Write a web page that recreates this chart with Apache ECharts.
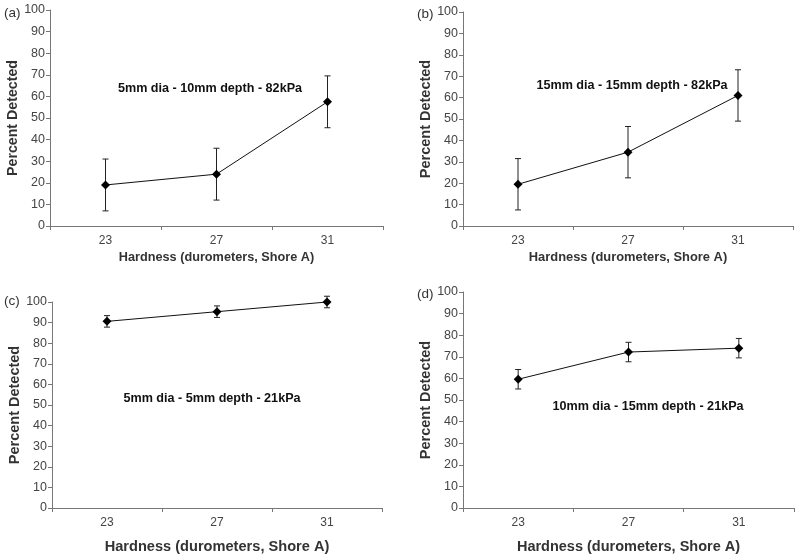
<!DOCTYPE html>
<html><head><meta charset="utf-8">
<script src="https://cdn.jsdelivr.net/npm/echarts@6/dist/echarts.min.js"></script>
<style>html,body{margin:0;padding:0;background:#fff}#c{width:800px;height:560px}</style>
</head><body><div id="c"></div>
<script>
const categories = ['23', '27', '31'];
const aValues = [19, 24, 57.5];
const aErr = [12, 12, 12];
const bValues = [19.5, 34.5, 61];
const bErr = [12, 12, 12];
const cValues = [90.6, 95.3, 100];
const cErr = [2.8, 2.8, 2.8];
const dValues = [59.6, 72.2, 74];
const dErr = [4.5, 4.5, 4.5];
const yTicks = { min: 0, max: 100, interval: 10 };
const panelLabels = ['(a)', '(b)', '(c)', '(d)'];
const annotations = ['5mm dia - 10mm depth - 82kPa', '15mm dia - 15mm depth - 82kPa', '5mm dia - 5mm depth - 21kPa', '10mm dia - 15mm depth - 21kPa'];
const xTitle = 'Hardness (durometers, Shore A)';
const yTitle = 'Percent Detected';

const FONT = 'Liberation Sans, Arial, sans-serif';
const panels = [
  { vals: aValues, err: aErr, grid: { left: 50, top: 10, width: 333, height: 216 }, xGap: 25, xFs: 12.7, yFs: 14.2, lab: [4, 6], ann: [210, 89] },
  { vals: bValues, err: bErr, grid: { left: 463, top: 12, width: 330, height: 214 }, xGap: 25, xFs: 12.9, yFs: 14.5, lab: [417, 7], ann: [632, 86] },
  { vals: cValues, err: cErr, grid: { left: 52, top: 302, width: 330, height: 206 }, xGap: 31, xFs: 14.6, yFs: 14.5, lab: [4, 294], ann: [212, 399] },
  { vals: dValues, err: dErr, grid: { left: 463, top: 292, width: 331, height: 216 }, xGap: 31, xFs: 14.5, yFs: 14.5, lab: [417, 287], ann: [648, 407] }
];

const grid = [], xAxis = [], yAxis = [], series = [], graphic = [];
panels.forEach((p, i) => {
  grid.push(Object.assign({ containLabel: false }, p.grid));
  xAxis.push({
    type: 'category', gridIndex: i, data: categories, boundaryGap: true,
    name: xTitle, nameLocation: 'middle', nameGap: p.xGap,
    nameTextStyle: { fontFamily: FONT, fontSize: p.xFs, fontWeight: 'bold', color: '#333' },
    axisLine: { lineStyle: { color: '#777', width: 1 } },
    axisTick: { show: true, length: 4, lineStyle: { color: '#777' } },
    axisLabel: { fontFamily: FONT, fontSize: 12, color: '#444', margin: 9 },
    splitLine: { show: false }
  });
  yAxis.push({
    type: 'value', gridIndex: i, min: yTicks.min, max: yTicks.max, interval: yTicks.interval,
    name: yTitle, nameLocation: 'middle', nameGap: 30,
    nameTextStyle: { fontFamily: FONT, fontSize: p.yFs, fontWeight: 'bold', color: '#333' },
    axisLine: { show: true, lineStyle: { color: '#777', width: 1 } },
    axisTick: { show: true, length: 4, lineStyle: { color: '#777' } },
    axisLabel: { fontFamily: FONT, fontSize: 12.5, color: '#444', margin: 5 },
    splitLine: { show: false }
  });
  series.push({
    type: 'line', xAxisIndex: i, yAxisIndex: i, data: p.vals,
    symbol: 'diamond', symbolSize: 9, showSymbol: true,
    itemStyle: { color: '#000' }, lineStyle: { color: '#111', width: 1 },
    z: 3, animation: false
  });
  series.push({
    type: 'custom', xAxisIndex: i, yAxisIndex: i, clip: false, animation: false,
    data: p.vals.map((v, k) => [k, v - p.err[k], v + p.err[k]]),
    renderItem: function (params, api) {
      const lo = api.coord([api.value(0), api.value(1)]);
      const hi = api.coord([api.value(0), api.value(2)]);
      const w = 3;
      const st = { stroke: '#222', lineWidth: 1 };
      return { type: 'group', children: [
        { type: 'line', shape: { x1: lo[0], y1: lo[1], x2: hi[0], y2: hi[1] }, style: st },
        { type: 'line', shape: { x1: lo[0] - w, y1: lo[1], x2: lo[0] + w, y2: lo[1] }, style: st },
        { type: 'line', shape: { x1: hi[0] - w, y1: hi[1], x2: hi[0] + w, y2: hi[1] }, style: st }
      ] };
    },
    z: 2
  });
  graphic.push({ type: 'text', left: p.lab[0], top: p.lab[1], style: { text: panelLabels[i], font: '13.5px ' + FONT, fill: '#333' } });
  graphic.push({ type: 'text', x: p.ann[0], y: p.ann[1], style: { text: annotations[i], font: 'bold 12.6px ' + FONT, fill: '#111', textAlign: 'center', textVerticalAlign: 'middle' } });
});

const chart = echarts.init(document.getElementById('c'), null, { renderer: 'canvas' });
chart.setOption({ animation: false, backgroundColor: '#fff', grid, xAxis, yAxis, series, graphic });
</script></body></html>
